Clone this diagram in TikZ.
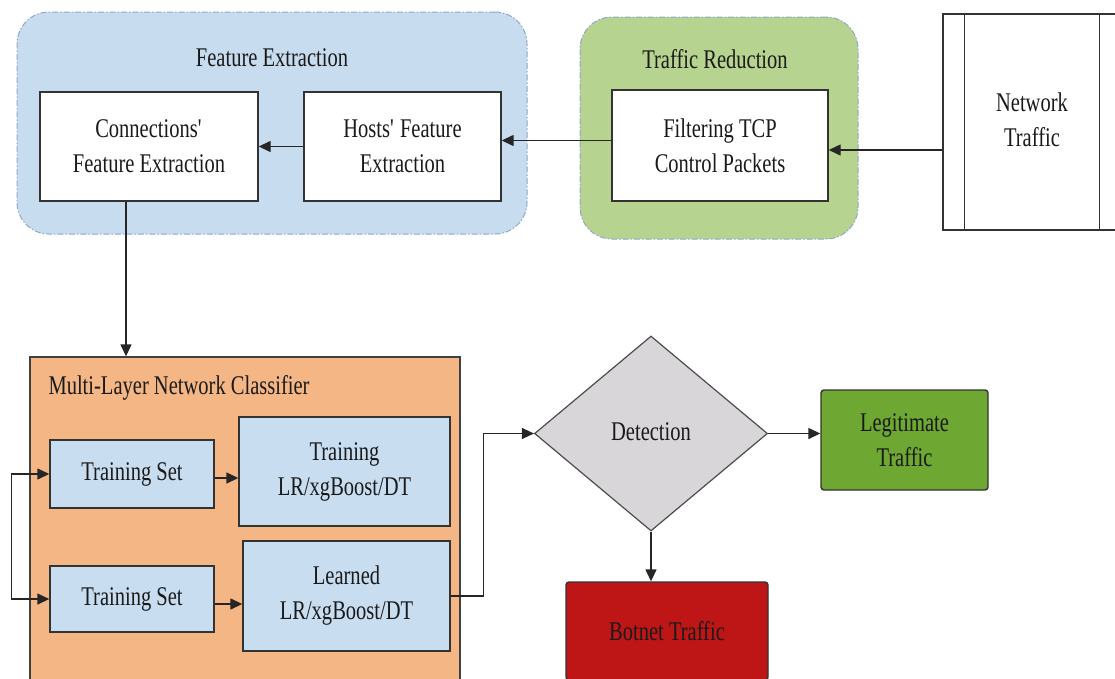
\documentclass[tikz,border=0pt]{standalone}
\usepackage{fontspec}
\setmainfont{Liberation Serif}[FakeStretch=0.76]
\usetikzlibrary{arrows.meta,shapes.geometric}
\definecolor{grpblue}{HTML}{C8DCF0}
\definecolor{grpgreen}{HTML}{B6D38F}
\definecolor{grpborder}{HTML}{8FA8C8}
\definecolor{lblue}{HTML}{C9DDF1}
\definecolor{orng}{HTML}{F4B684}
\definecolor{dgray}{HTML}{D8D6D8}
\definecolor{lgreen}{HTML}{6EA832}
\definecolor{bred}{HTML}{BE1616}
\definecolor{ink}{HTML}{1A1A1A}
\begin{document}
\begin{tikzpicture}[x=1pt,y=-1pt,
  txt/.style={font=\fontsize{27}{35}\selectfont,text=ink},
  box/.style={txt,draw=black!80,line width=1.4pt,align=center,inner sep=0pt},
  grp/.style={draw=grpborder,line width=1pt,dash pattern=on 6pt off 2pt on 1.5pt off 2pt,rounded corners=32pt,inner sep=0pt},
  tip/.tip={Triangle[length=12pt,width=11pt]},
  arr/.style={-tip,line width=1.4pt,draw=black!85},
  darr/.style={tip-tip,line width=1.4pt,draw=black!85}]
\useasboundingbox (0,0) rectangle (1115,678);
\fill[white] (0,0) rectangle (1115,678);

% groups
\node[grp,fill=grpblue,minimum width=510pt,minimum height=222pt] (fe) at (272,123) {};
\node[txt] (fetitle) at (272,58) {Feature Extraction};
\node[grp,fill=grpgreen,minimum width=278pt,minimum height=222pt] (tr) at (719,128) {};
\node[txt] (trtitle) at (715,59) {Traffic Reduction};

% top boxes
\node[box,fill=white,minimum width=218pt,minimum height=109pt] (conn) at (149,146.5) {Connections\textquotesingle\\Feature Extraction};
\node[box,fill=white,minimum width=197pt,minimum height=109pt] (hosts) at (402.5,146.5) {Hosts\textquotesingle{} Feature\\Extraction};
\node[box,fill=white,minimum width=216pt,minimum height=111pt] (filt) at (720,145.5) {Filtering TCP\\Control Packets};
\node[box,fill=white,minimum width=178pt,minimum height=216pt] (nt) at (1032,122) {};
\node[txt,align=center] (nttext) at (1032,120) {Network\\Traffic};
\draw[black!80,line width=1.4pt] ([xshift=22pt]nt.north west) -- ([xshift=22pt]nt.south west);
\draw[black!80,line width=1.4pt] ([xshift=-22pt]nt.north east) -- ([xshift=-22pt]nt.south east);

% top arrows
\coordinate (c0) at ([yshift=-28pt]nt.west);
\draw[arr] (c0) -- (c0 -| filt.east);
\coordinate (c1) at ([yshift=5pt]filt.west);
\draw[arr] (c1) -- (c1 -| hosts.east);
\draw[arr] (hosts.west) -- (conn.east);

% classifier
\node[draw=black!75,line width=1.4pt,fill=orng,inner sep=0pt,minimum width=430pt,minimum height=326pt] (mlc) at (245,520) {};
\node[txt,anchor=west] (mlctitle) at (45,388) {Multi-Layer Network Classifier};
\coordinate (c2) at ([xshift=-23pt]conn.south);
\draw[arr] (c2) -- (c2 |- mlc.north);

\node[box,fill=lblue,minimum width=164pt,minimum height=68pt] (ts1) at (132,474) {Training Set};
\node[box,fill=lblue,minimum width=211pt,minimum height=109pt] (tlr) at (344.5,471.5) {Training\\LR/xgBoost/DT};
\node[box,fill=lblue,minimum width=164pt,minimum height=66pt] (ts2) at (132,599) {Training Set};
\node[box,fill=lblue,minimum width=207pt,minimum height=110pt] (llr) at (346.5,596) {Learned\\LR/xgBoost/DT};

\coordinate (c3) at ([yshift=-4pt]ts1.east);
\draw[arr] (c3) -- (c3 -| tlr.west);
\coordinate (c4) at ([yshift=-5pt]ts2.east);
\draw[arr] (c4) -- (c4 -| llr.west);
\draw[darr] (ts1.west) -- ++(-38,0) |- (ts2.west);

% detection
\node[diamond,draw=black!70,line width=1.2pt,fill=dgray,inner sep=0pt,minimum width=233pt,minimum height=195pt,txt] (det) at (651,433.5) {};
\node[txt] (dettext) at (651,432) {Detection};
\draw[arr] (llr.east) -- ++(33,0) |- (det.west);

\node[box,fill=lgreen,rounded corners=3pt,minimum width=167pt,minimum height=100pt] (leg) at (904.5,440) {Legitimate\\Traffic};
\draw[arr] (det.east) -- (det.east -| leg.west);

\node[box,fill=bred,rounded corners=3pt,minimum width=202pt,minimum height=98pt] (bot) at (667,631) {Botnet Traffic};
\draw[arr] (det.south) -- (det.south |- bot.north);
\end{tikzpicture}
\end{document}
